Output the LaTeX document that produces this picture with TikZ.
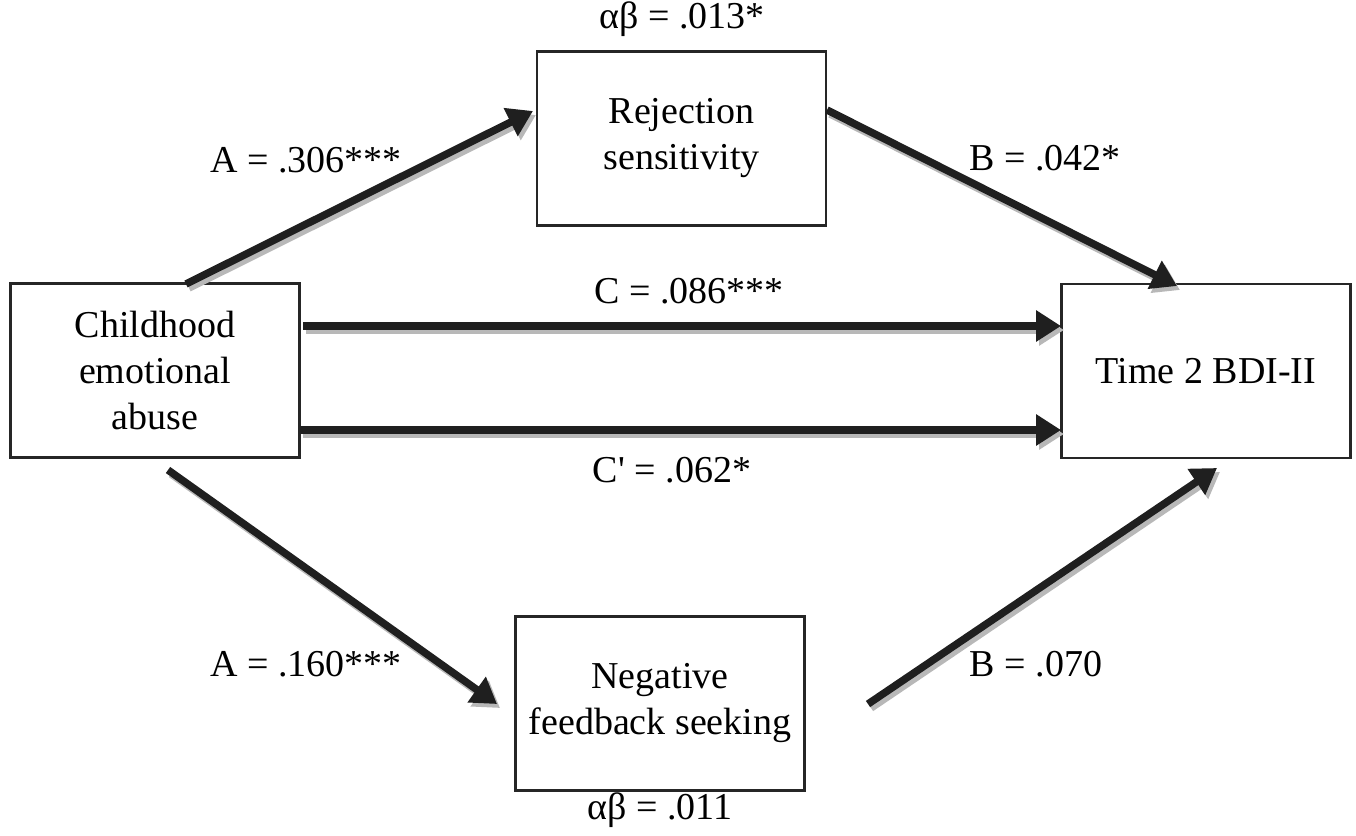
\documentclass[tikz,border=0pt]{standalone}
\usepackage{fontspec}
\setmainfont{Liberation Serif}
\usetikzlibrary{arrows.meta}
\begin{document}
\begin{tikzpicture}[x=1pt,y=-1pt,
  box/.style={draw=black!85,line width=2.2pt,minimum width=289pt,minimum height=174pt,align=center,inner sep=0pt,font=\fontsize{38}{46}\selectfont},
  lbl/.style={font=\fontsize{38}{46}\selectfont,inner sep=0pt},
  arr/.style={line width=7.5pt,draw=black!88,-{Triangle[length=25pt,width=30pt]}},
  shd/.style={line width=7.5pt,draw=black!28,-{Triangle[length=25pt,width=30pt]}}]
\useasboundingbox (0,0) rectangle (1356,835);
\node[box] (child) at (155,370.5) {Childhood\\emotional\\abuse};
\node[box] (rej) at (681.5,138.5) {Rejection\\sensitivity};
\node[box] (bdi) at (1206,371) {Time 2 BDI-II};
\node[box] (neg) at (660,703.5) {Negative\\feedback seeking};
% endpoints
\coordinate (a1s) at (186,284);
\coordinate (a1e) at (533,111);
\coordinate (b1s) at (827,110);
\coordinate (b1e) at (1177,286);
\coordinate (cs) at (303,326);
\coordinate (ce) at (1061,326);
\coordinate (cps) at (300,430);
\coordinate (cpe) at (1061,430);
\coordinate (a2s) at (168,470);
\coordinate (a2e) at (497,704);
\coordinate (b2s) at (868,704);
\coordinate (b2e) at (1217,468);
% shadows
\draw[shd] ([shift={(3,4)}]a1s) -- ([shift={(3,4)}]a1e);
\draw[shd] ([shift={(3,4)}]b1s) -- ([shift={(3,4)}]b1e);
\draw[shd] ([shift={(3,4)}]cs) -- ([shift={(3,4)}]ce);
\draw[shd] ([shift={(3,4)}]cps) -- ([shift={(3,4)}]cpe);
\draw[shd] ([shift={(3,4)}]a2s) -- ([shift={(3,4)}]a2e);
\draw[shd] ([shift={(3,4)}]b2s) -- ([shift={(3,4)}]b2e);
% arrows
\draw[arr] (a1s) -- (a1e);
\draw[arr] (b1s) -- (b1e);
\draw[arr] (cs) -- (ce);
\draw[arr] (cps) -- (cpe);
\draw[arr] (a2s) -- (a2e);
\draw[arr] (b2s) -- (b2e);
% labels
\node[lbl] (ab1) at (682,19) {αβ = .013*};
\node[lbl] (la1) at (306,160) {A = .306***};
\node[lbl] (lb1) at (1045,158) {B = .042*};
\node[lbl] (lc) at (689,291) {C = .086***};
\node[lbl] (lcp) at (672,470) {C\textquotesingle\ = .062*};
\node[lbl] (la2) at (306,664) {A = .160***};
\node[lbl] (lb2) at (1036,664) {B = .070};
\node[lbl] (ab2) at (660,810) {αβ = .011};
\end{tikzpicture}
\end{document}
